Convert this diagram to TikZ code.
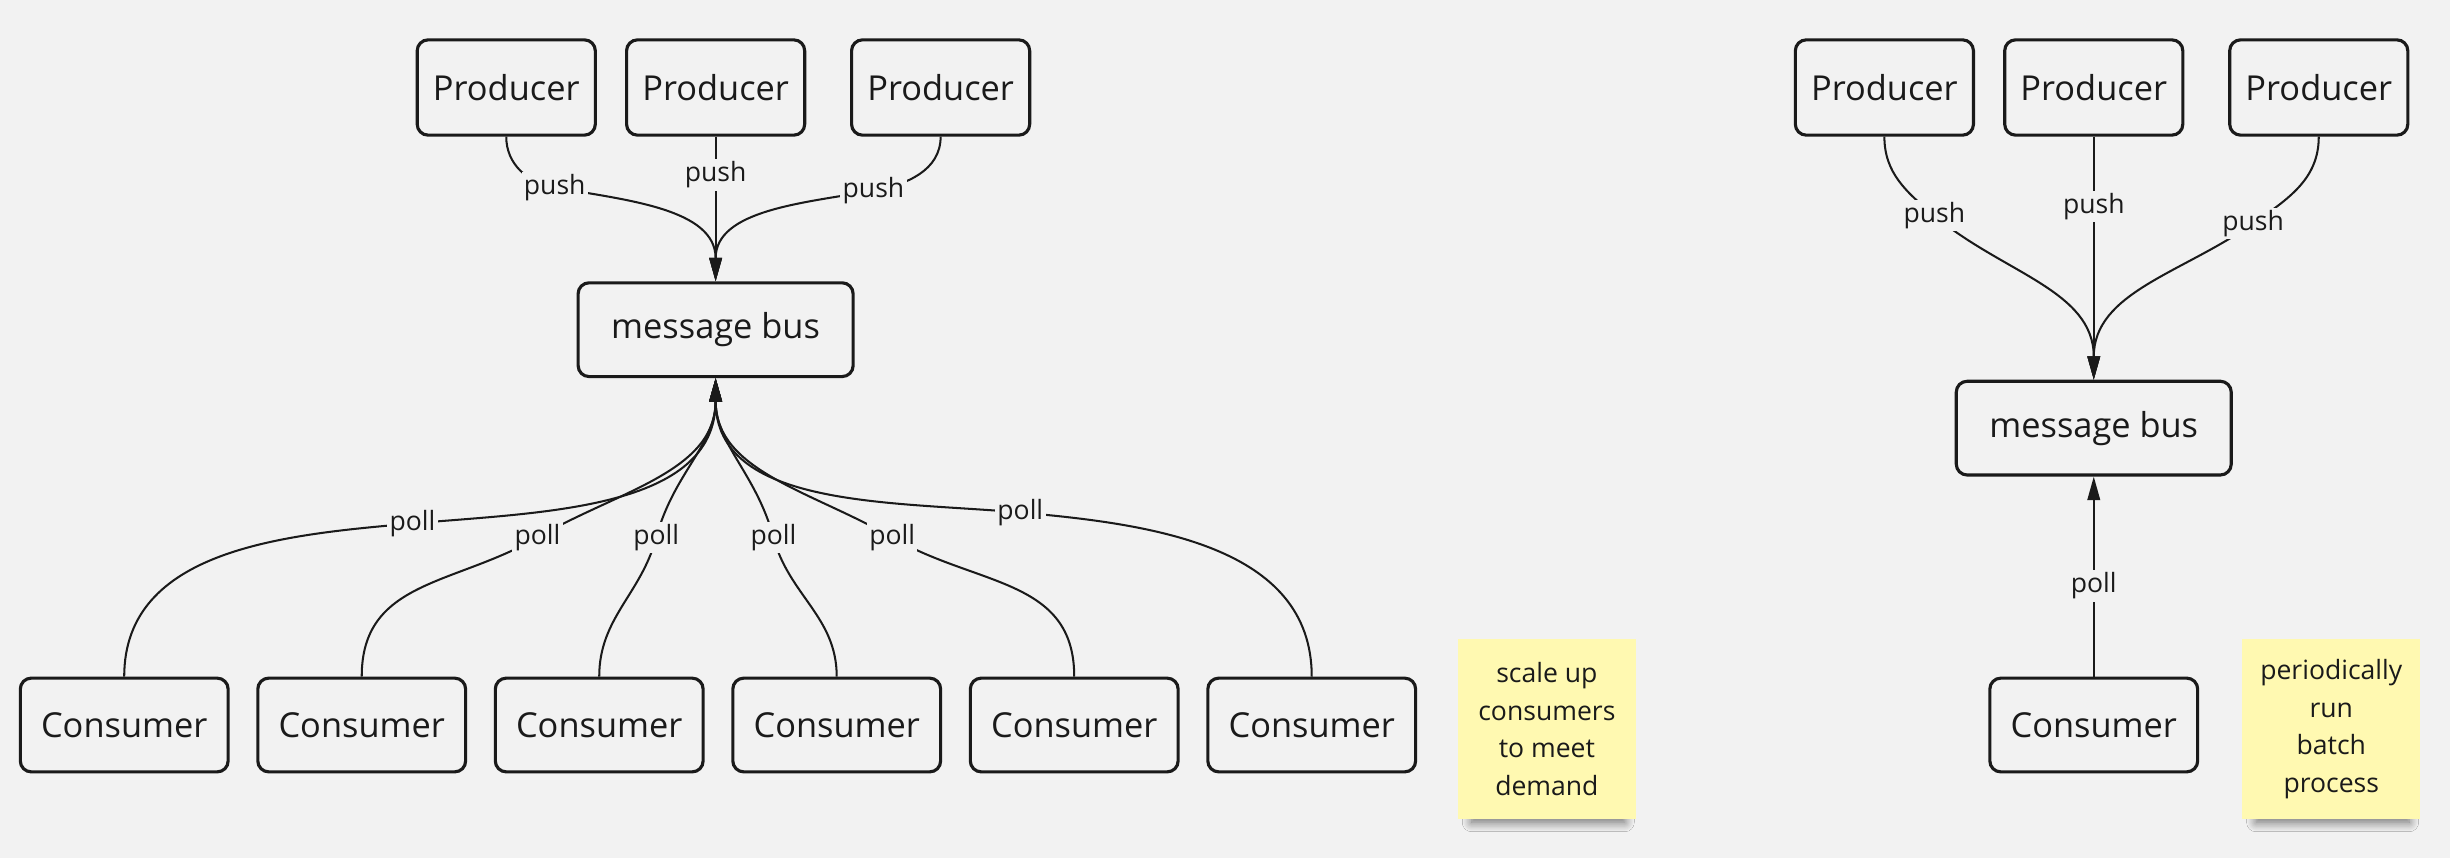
\documentclass[tikz,border=0pt]{standalone}
\usepackage{fontspec}
\setmainfont{Open Sans}
\usepackage{tikz}
\usetikzlibrary{arrows.meta,positioning,shadows.blur}
\definecolor{bgc}{HTML}{F2F2F2}
\definecolor{ink}{HTML}{1A1A1A}
\definecolor{stickyyellow}{HTML}{FFF9B1}

\begin{document}
\begin{tikzpicture}[x=1pt, y=-1pt,
  box/.style={draw=ink, line width=2pt, rounded corners=7pt, align=center, text=ink, font=\fontsize{22}{26}\selectfont, minimum width=114pt, minimum height=61pt, inner sep=0pt},
  consbox/.style={box, minimum width=133pt, minimum height=60pt},
  busbox/.style={box, minimum width=176pt, minimum height=60pt},
  stickynote/.style={fill=stickyyellow, align=center, text=ink, font=\fontsize{17}{24}\selectfont, minimum width=114pt, minimum height=115pt, inner sep=0pt,
    blur shadow={shadow xshift=1pt, shadow yshift=-12pt, shadow scale=0.86, shadow blur radius=7pt, shadow blur steps=12, shadow opacity=55}},
  lbl/.style={fill=bgc, text=ink, font=\fontsize{17}{20}\selectfont, inner sep=1.5pt},
  arr/.style={-{Triangle[length=15pt,width=8pt]}, line width=1.3pt, draw=ink}]
\fill[bgc] (0,0) rectangle (1568,549);
\useasboundingbox (0,0) rectangle (1568,549);
% scale out: many consumers
\node[box] (p1) at (324,56) {Producer};
\node[box, right=18pt of p1] (p2) {Producer};
\node[box, right=28pt of p2] (p3) {Producer};
\node[busbox] (bus) at (458,211) {message bus};
\node[consbox] (c1) at (79.5,464) {Consumer};
\node[consbox, right=17pt of c1] (c2) {Consumer};
\node[consbox, right=17pt of c2] (c3) {Consumer};
\node[consbox, right=17pt of c3] (c4) {Consumer};
\node[consbox, right=17pt of c4] (c5) {Consumer};
\node[consbox, right=17pt of c5] (c6) {Consumer};
\node[stickynote] (note1) at (990,466.5) {scale up\\consumers\\to meet\\demand};
% batch: one consumer
\node[box] (rp1) at (1206,56) {Producer};
\node[box, right=18pt of rp1] (rp2) {Producer};
\node[box, right=28pt of rp2] (rp3) {Producer};
\node[busbox] (rbus) at (1340,274) {message bus};
\node[consbox] (rc) at (1340,464) {Consumer};
\node[stickynote] (note2) at (1492,466.5) {periodically\\run\\batch\\process};
% label points
\coordinate (push1) at (355,120);
\coordinate (push2) at (458,112);
\coordinate (push3) at (559,122);
\coordinate (poll1) at (264,335);
\coordinate (poll2) at (344,344);
\coordinate (poll3) at (420,344);
\coordinate (poll4) at (495,344);
\coordinate (poll5) at (571,344);
\coordinate (poll6) at (653,328);
\coordinate (rpush1) at (1238,138);
\coordinate (rpush2) at (1340,132);
\coordinate (rpush3) at (1442,143);
\coordinate (rpoll) at (1340,375);
\draw[arr] (p1.south) to[out=-90, in=170] (push1) node[lbl]{push} to[out=-10, in=90] (bus.north);
\draw[arr] (p2.south) -- (push2) node[lbl]{push} -- (bus.north);
\draw[arr] (p3.south) to[out=-90, in=10] (push3) node[lbl]{push} to[out=190, in=90] (bus.north);
\draw[arr] (c1.north) to[out=90, in=185] (poll1) node[lbl]{poll} to[out=5, in=-90] (bus.south);
\draw[arr] (c2.north) to[out=90, in=210, looseness=1.1] (poll2) node[lbl]{poll} to[out=30, in=-90] (bus.south);
\draw[arr] (c3.north) to[out=90, in=255] (poll3) node[lbl]{poll} to[out=75, in=-90] (bus.south);
\draw[arr] (c4.north) to[out=90, in=285] (poll4) node[lbl]{poll} to[out=105, in=-90] (bus.south);
\draw[arr] (c5.north) to[out=90, in=330, looseness=1.1] (poll5) node[lbl]{poll} to[out=150, in=-90] (bus.south);
\draw[arr] (c6.north) to[out=90, in=355] (poll6) node[lbl]{poll} to[out=175, in=-90] (bus.south);
\draw[arr] (rp1.south) to[out=-90, in=140] (rpush1) node[lbl]{push} to[out=-40, in=90] (rbus.north);
\draw[arr] (rp2.south) -- (rpush2) node[lbl]{push} -- (rbus.north);
\draw[arr] (rp3.south) to[out=-90, in=35] (rpush3) node[lbl]{push} to[out=215, in=90] (rbus.north);
\draw[arr] (rc.north) -- (rpoll) node[lbl]{poll} -- (rbus.south);
\end{tikzpicture}
\end{document}
